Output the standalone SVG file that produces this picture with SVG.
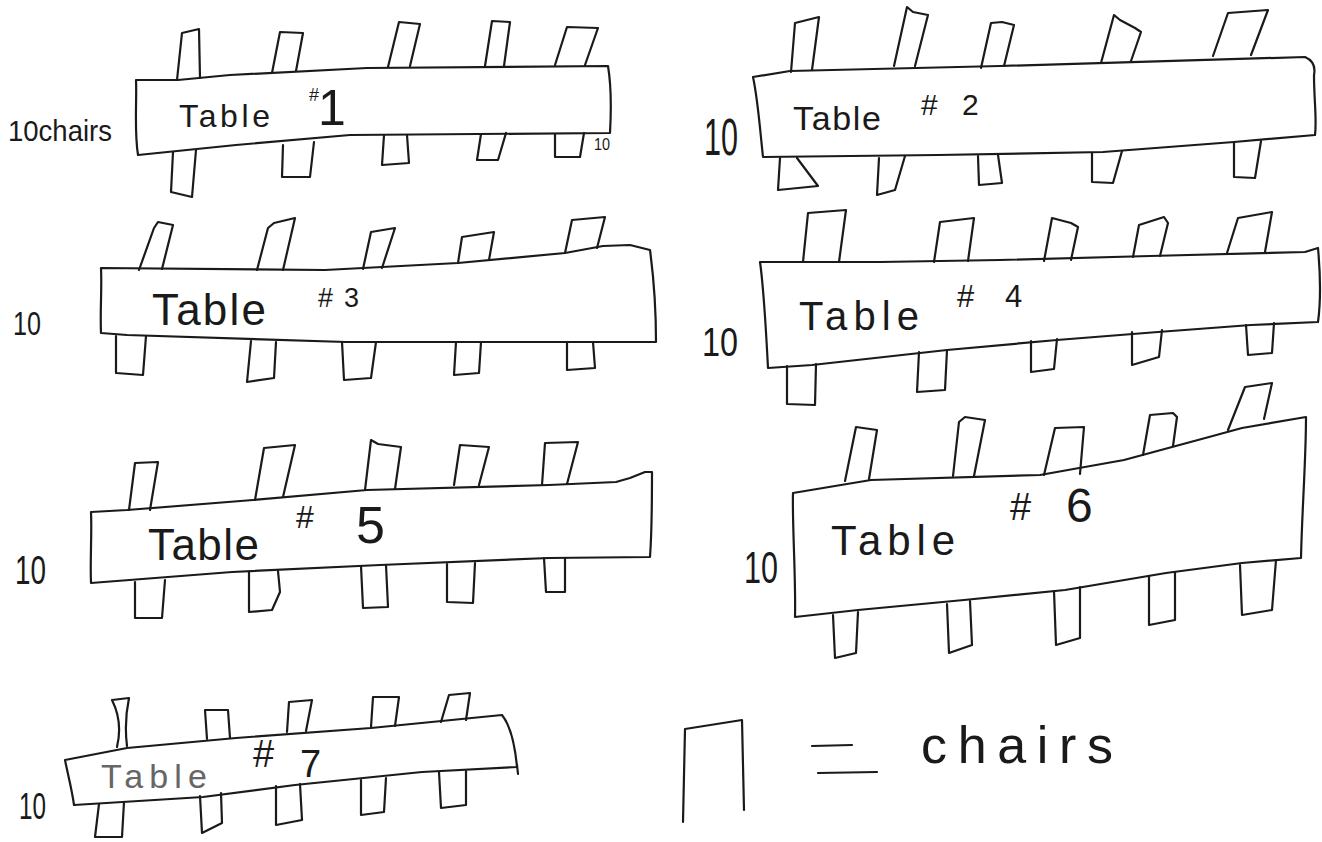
<svg xmlns="http://www.w3.org/2000/svg" width="1322" height="842" viewBox="0 0 1322 842">
<style>
.ln{fill:none;stroke:#1a1a1a;stroke-width:2.2;stroke-linecap:round;stroke-linejoin:round}
.tb{fill:#fff;stroke:#1a1a1a;stroke-width:2.2;stroke-linejoin:round}
.tx{font-family:"Liberation Sans",Arial,sans-serif;fill:#1a1a1a}
.faint{fill:#666}
</style>
<rect width="1322" height="842" fill="#fff"/>
<g id="connectors"/>

<g id="table1">
<path class="tb" d="M136 80 L178 80 L230 75 L367 68 L608 66 C612 90 611 115 610 133 L350 135 L236 145 L138 155 C134 130 137 100 136 80 Z"/>
<path class="ln" d="M177 80 L182 33 L199 29 L200 78 M272 73 L280 32 L303 33 L296 71 M388 67 L399 22 L420 24 L410 66 M485 66 L492 21 L510 22 L504 66 M555 65 L567 27 L598 28 L585 65"/>
<path class="ln" d="M173 152 L171 192 L192 197 L196 150 M283 145 L282 177 L310 177 L314 142 M384 135 L382 165 L409 163 L407 135 M481 134 L477 160 L498 160 L506 133 M555 134 L555 157 L580 157 L584 133"/>
<text class="tx" x="8" y="141" font-size="30" textLength="104" lengthAdjust="spacingAndGlyphs">10chairs</text>
<text class="tx" x="179" y="127" font-size="32"><tspan textLength="91" lengthAdjust="spacing">Table</tspan> <tspan x="309" y="101" font-size="18">#</tspan><tspan x="318" y="125" font-size="50">1</tspan></text>
<text class="tx" x="594" y="150" font-size="16" textLength="16" lengthAdjust="spacingAndGlyphs">10</text>
</g>

<g id="table2">
<path class="tb" d="M753 77 L790 71 L1000 66 L1305 57 C1312 60 1316 65 1314 75 C1314 100 1317 120 1315 135 L1234 142 L1103 152 L938 155 L763 157 C760 130 758 100 753 77 Z"/>
<path class="ln" d="M791 72 L795 23 L819 17 L812 70 M894 66 L907 7 L913 12 L928 15 L915 66 M981 68 L991 23 L1002 22 L1014 25 L1004 66 M1101 63 L1114 15 L1120 20 L1135 28 L1141 32 L1131 61 M1213 56 L1228 13 L1268 10 L1251 55"/>
<path class="ln" d="M780 158 L778 190 L818 186 L797 158 M879 158 L877 195 L895 190 L905 156 M978 156 L979 185 L1002 183 L998 155 M1092 153 L1092 182 L1113 183 L1122 151 M1234 143 L1234 177 L1255 178 L1261 141"/>
<text class="tx" x="704" y="155" font-size="52" textLength="34" lengthAdjust="spacingAndGlyphs">10</text>
<text class="tx" x="793" y="130" font-size="34"><tspan textLength="88" lengthAdjust="spacing">Table</tspan> <tspan x="921" y="115" font-size="30">#</tspan><tspan x="962" y="115" font-size="30">2</tspan></text>
</g>

<g id="table3">
<path class="tb" d="M101 268 L325 270 L458 263 L565 253 L603 246 L630 245 L650 250 C654 280 656 315 656 342 L346 342 L127 335 L101 333 C100 310 102 290 101 268 Z"/>
<path class="ln" d="M139 270 L154 228 L158 222 L173 225 L162 269 M257 270 L268 228 L274 223 L295 218 L283 270 M363 269 L371 232 L395 228 L382 268 M458 263 L462 237 L494 232 L489 260 M565 253 L572 220 L605 217 L597 248"/>
<path class="ln" d="M116 336 L116 373 L143 375 L146 336 M251 341 L247 382 L274 378 L276 342 M342 342 L344 380 L371 378 L376 342 M456 342 L454 375 L479 373 L481 342 M567 342 L567 370 L595 368 L593 342"/>
<text class="tx" x="13" y="335" font-size="34" textLength="28" lengthAdjust="spacingAndGlyphs">10</text>
<text class="tx" x="152" y="325" font-size="44"><tspan textLength="114" lengthAdjust="spacing">Table</tspan> <tspan x="318" y="307" font-size="27">#</tspan><tspan x="344" y="307" font-size="27">3</tspan></text>
</g>

<g id="table4">
<path class="tb" d="M760 262 L880 262 L1000 260 L1150 256 L1305 252 L1318 248 C1320 270 1321 300 1318 322 L1251 325 L1158 332 L1057 340 L947 350 L812 365 L768 368 C766 330 764 290 760 262 Z"/>
<path class="ln" d="M803 262 L808 213 L846 210 L839 262 M934 262 L940 222 L974 218 L968 261 M1044 261 L1052 218 L1071 223 L1078 227 L1071 260 M1133 257 L1139 225 L1164 217 L1168 223 L1160 256 M1227 253 L1238 218 L1272 212 L1265 252"/>
<path class="ln" d="M787 366 L787 404 L815 405 L816 364 M919 352 L917 392 L945 390 L947 350 M1031 341 L1031 372 L1054 369 L1057 339 M1132 332 L1132 365 L1159 357 L1162 330 M1246 325 L1248 355 L1272 353 L1274 323"/>
<text class="tx" x="702" y="356" font-size="40" textLength="36" lengthAdjust="spacingAndGlyphs">10</text>
<text class="tx" x="799" y="330" font-size="40"><tspan textLength="120" lengthAdjust="spacing">Table</tspan> <tspan x="957" y="307" font-size="31">#</tspan><tspan x="1005" y="307" font-size="31">4</tspan></text>
</g>

<g id="table5">
<path class="tb" d="M91 512 L127 510 L253 500 L367 490 L549 485 L616 482 L630 478 L645 472 L652 472 C652 500 652 530 650 557 L549 558 L380 565 L232 572 L91 583 C90 560 92 535 91 512 Z"/>
<path class="ln" d="M129 510 L135 463 L158 462 L150 510 M255 500 L264 448 L295 445 L283 497 M365 490 L371 440 L378 444 L401 447 L395 489 M454 485 L460 445 L489 447 L479 485 M542 485 L545 443 L578 442 L567 484"/>
<path class="ln" d="M135 582 L135 618 L162 618 L165 580 M249 572 L249 612 L272 610 L280 592 L278 571 M361 566 L363 608 L388 607 L386 565 M447 564 L447 602 L473 603 L475 563 M544 558 L546 592 L565 592 L565 558"/>
<text class="tx" x="15" y="584" font-size="40" textLength="31" lengthAdjust="spacingAndGlyphs">10</text>
<text class="tx" x="148" y="560" font-size="44"><tspan textLength="111" lengthAdjust="spacing">Table</tspan> <tspan x="296" y="528" font-size="32">#</tspan><tspan x="356" y="543" font-size="52">5</tspan></text>
</g>

<g id="table6">
<path class="tb" d="M793 493 L871 480 L1040 475 L1124 460 L1209 437 L1242 428 L1306 417 C1306 460 1302 510 1301 558 L1242 563 L1166 573 L1065 590 L964 600 L858 610 L795 617 C796 580 792 520 793 493 Z"/>
<path class="ln" d="M845 481 L856 427 L877 430 L869 479 M953 476 L959 422 L965 417 L985 420 L974 476 M1044 475 L1055 428 L1084 427 L1080 474 M1143 455 L1150 415 L1173 413 L1177 417 L1173 446 M1228 430 L1245 387 L1272 383 L1264 419"/>
<path class="ln" d="M833 615 L835 658 L856 653 L858 612 M947 604 L949 653 L972 645 L970 601 M1054 591 L1056 645 L1080 638 L1080 587 M1149 576 L1149 625 L1175 620 L1175 572 M1240 565 L1242 615 L1272 610 L1276 560"/>
<text class="tx" x="744" y="583" font-size="44" textLength="34" lengthAdjust="spacingAndGlyphs">10</text>
<text class="tx" x="831" y="555" font-size="42"><tspan textLength="124" lengthAdjust="spacing">Table</tspan> <tspan x="1010" y="520" font-size="38">#</tspan><tspan x="1066" y="522" font-size="48">6</tspan></text>
</g>

<g id="table7">
<path class="tb" d="M65 760 L127 748 L236 738 L371 728 L502 715 C510 725 515 745 517 767 L422 772 L295 785 L203 797 L74 805 C72 790 68 775 65 760 Z"/>
<path class="ln" d="M517 765 L518 774"/>
<path class="ln" d="M117 747 Q123 722 112 700 L129 698 Q124 722 127 746 M207 739 L205 710 L228 710 L230 738 M287 732 L289 702 L312 700 L306 731 M371 727 L373 697 L399 697 L395 726 M441 722 L449 695 L470 693 L466 720"/>
<path class="ln" d="M99 804 L95 837 L122 837 L124 802 M200 796 L202 833 L222 823 L221 793 M276 786 L276 825 L302 820 L300 784 M361 780 L361 815 L384 812 L386 778 M439 772 L441 808 L466 805 L466 771"/>
<text class="tx" x="19" y="819" font-size="36" textLength="27" lengthAdjust="spacingAndGlyphs">10</text>
<text class="tx" x="101" y="788" font-size="34"><tspan class="faint" textLength="106" lengthAdjust="spacing">Table</tspan> <tspan x="253" y="767" font-size="38">#</tspan><tspan x="300" y="777" font-size="38">7</tspan></text>
</g>

<g id="legend">
<path class="ln" d="M683 822 L685 729 L742 720 L744 810"/>
<path class="ln" d="M812 746 L852 745 M818 773 L877 772"/>
<text class="tx" x="921" y="763" font-size="52" textLength="192" lengthAdjust="spacing">chairs</text>
</g>
</svg>
